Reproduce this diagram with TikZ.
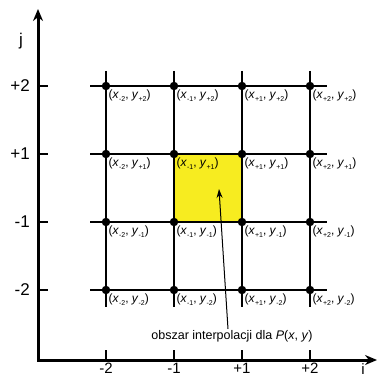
\documentclass[tikz,border=0pt]{standalone}
\usepackage{fontspec}
\setmainfont{Liberation Sans}
\usetikzlibrary{arrows.meta}
\definecolor{cellyellow}{RGB}{247,236,32}
\newcommand\sbs[1]{\raisebox{-0.45ex}{\fontsize{7}{7}\selectfont #1}}
\newcommand\ptlbl[2]{(\textit{x}\sbs{#1}, \textit{y}\sbs{#2})}
\begin{document}
\begin{tikzpicture}[x=1pt,y=-1pt,
  axis/.style={line width=3pt},
  tickline/.style={line width=2pt},
  gridline/.style={line width=2pt},
  dot/.style={circle,fill=black,inner sep=0pt,minimum size=8.5pt},
  ptlabel/.style={anchor=north west,inner sep=0pt,font=\fontsize{12}{13}\selectfont},
  ticklbl/.style={inner sep=0pt,font=\fontsize{17}{19}\selectfont},
  xticklbl/.style={inner sep=0pt,font=\fontsize{15}{17}\selectfont},
  pointer/.style={line width=1pt,-{Stealth[length=9pt,width=6pt]}}]
\useasboundingbox (0,0) rectangle (377,377);
% grid points
\foreach \c/\x in {1/106,2/174,3/242,4/310}{
  \foreach \r/\y in {1/86,2/154,3/222,4/290}{
    \coordinate (p-\c-\r) at (\x,\y);
  }
}
% yellow cell
\fill[cellyellow] (p-2-2) rectangle (p-3-3);
% grid lines
\foreach \r in {1,2,3,4}{
  \draw[gridline] ([xshift=-16pt]p-1-\r) -- ([xshift=17pt]p-4-\r);
}
\foreach \c in {1,2,3,4}{
  \draw[gridline] ([yshift=15pt]p-\c-1) -- ([yshift=-17pt]p-\c-4);
}
% dots and labels
\foreach \c/\cl in {1/-2,2/-1,3/+1,4/+2}{
  \foreach \r/\rl in {1/+2,2/+1,3/-1,4/-2}{
    \node[dot] (d-\c-\r) at (p-\c-\r) {};
    \node[ptlabel] (l-\c-\r) at ([xshift=2.5pt,yshift=-4pt]p-\c-\r) {\ptlbl{\cl}{\rl}};
  }
}
% axes
\coordinate (O) at (38,360);
\coordinate (ytop) at (38,9);
\coordinate (xend) at (377,360);
\draw[axis,line join=miter,{Stealth[length=12pt,width=10pt]}-{Stealth[length=12pt,width=10pt]}] (ytop) -- (O) -- (xend);
\node[ticklbl] (jl) at (21,41) {j};
\node[xticklbl,anchor=base] (il) at (363,374) {i};
% ticks
\foreach \r/\rl in {1/+2,2/+1,3/-1,4/-2}{
  \coordinate (ya-\r) at (O |- p-1-\r);
  \draw[tickline] (ya-\r) -- ++(10,0);
  \node[ticklbl,anchor=east] (yl-\r) at ([xshift=-8pt]ya-\r) {\rl};
}
\foreach \c/\cl in {1/-2,2/-1,3/+1,4/+2}{
  \coordinate (xa-\c) at (p-\c-1 |- O);
  \draw[tickline] (xa-\c) -- ++(0,-10);
  \node[xticklbl,anchor=base] (xl-\c) at ([yshift=-13pt]xa-\c) {\cl};
}
% annotation
\node[inner sep=1pt,font=\fontsize{12.5}{14}\selectfont] (note) at (232,336)
  {obszar interpolacji dla \textit{P}(\textit{x}, \textit{y})};
\coordinate (tip) at (219,189);
\draw[pointer] ([xshift=-4pt]note.north) -- (tip);
\end{tikzpicture}
\end{document}
